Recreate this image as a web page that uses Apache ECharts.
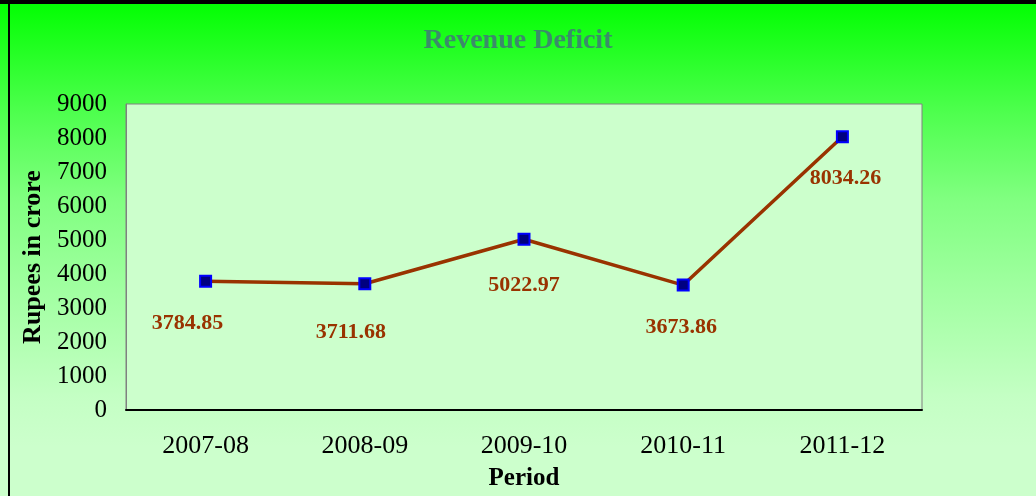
<!DOCTYPE html>
<html>
<head>
<meta charset="utf-8">
<title>Revenue Deficit</title>
<script src="https://cdn.jsdelivr.net/npm/echarts@6/dist/echarts.min.js"></script>
<style>
  html, body { margin: 0; padding: 0; background: #fff; }
  #chart { width: 1036px; height: 496px; }
</style>
</head>
<body>
<div id="chart"></div>
<script>
// 数据
const periods = ['2007-08', '2008-09', '2009-10', '2010-11', '2011-12']
const deficit = [3784.85, 3711.68, 5022.97, 3673.86, 8034.26]
const labelShift = [[-18, 42], [-14, 49], [0, 46], [-2, 42], [3, 41]]

const serif = '"Liberation Serif", "Times New Roman", serif'

const chart = echarts.init(document.getElementById('chart'))

chart.setOption({
  animation: false,
  // 背景渐变：上方亮绿到下方浅绿
  backgroundColor: {
    type: 'linear', x: 0, y: 0, x2: 0, y2: 1,
    colorStops: [
      { offset: 0, color: '#00ff00' },
      { offset: 0.22, color: '#4cff4c' },
      { offset: 0.4, color: '#80ff80' },
      { offset: 0.58, color: '#a0ffa0' },
      { offset: 0.8, color: '#c4ffc4' },
      { offset: 0.9, color: '#ccffcc' },
      { offset: 1, color: '#ccffcc' }
    ]
  },
  title: {
    text: 'Revenue Deficit',
    left: 'center',
    top: 22,
    textStyle: { color: '#3b8b6b', fontFamily: serif, fontWeight: 'bold', fontSize: 28 }
  },
  graphic: [
    { type: 'rect', shape: { x: 0, y: 0, width: 1036, height: 4 }, style: { fill: '#000' } },
    { type: 'rect', shape: { x: 8, y: 0, width: 2, height: 496 }, style: { fill: '#000' } }
  ],
  grid: {
    left: 126, right: 114, top: 104, bottom: 86,
    show: true,
    backgroundColor: '#ccffcc',
    borderColor: '#808080',
    borderWidth: 1
  },
  xAxis: {
    type: 'category',
    data: periods,
    name: 'Period',
    nameLocation: 'middle',
    nameGap: 56,
    nameTextStyle: { color: '#000', fontFamily: serif, fontWeight: 'bold', fontSize: 25 },
    axisLine: { lineStyle: { color: '#000', width: 2 } },
    axisTick: { show: false },
    axisLabel: { color: '#000', fontFamily: serif, fontSize: 26, margin: 23 }
  },
  yAxis: {
    type: 'value',
    min: 0, max: 9000, interval: 1000,
    name: 'Rupees in crore',
    nameLocation: 'middle',
    nameGap: 80,
    nameTextStyle: { color: '#000', fontFamily: serif, fontWeight: 'bold', fontSize: 26 },
    axisLine: { show: true, lineStyle: { color: '#808080' } },
    axisTick: { show: false },
    splitLine: { show: false },
    axisLabel: { color: '#000', fontFamily: serif, fontSize: 25, margin: 19, formatter: v => String(v) }
  },
  series: [{
    type: 'line',
    data: deficit.map((v, i) => ({
      value: v,
      label: { offset: labelShift[i] }
    })),
    symbol: 'rect',
    symbolSize: 11,
    lineStyle: { color: '#993300', width: 3.5 },
    itemStyle: { color: '#000080', borderColor: '#0000ff', borderWidth: 2 },
    label: {
      show: true,
      position: 'inside',
      color: '#993300',
      fontFamily: serif,
      fontWeight: 'bold',
      fontSize: 22,
      formatter: p => p.value.toFixed(2)
    }
  }]
})
</script>
</body>
</html>
